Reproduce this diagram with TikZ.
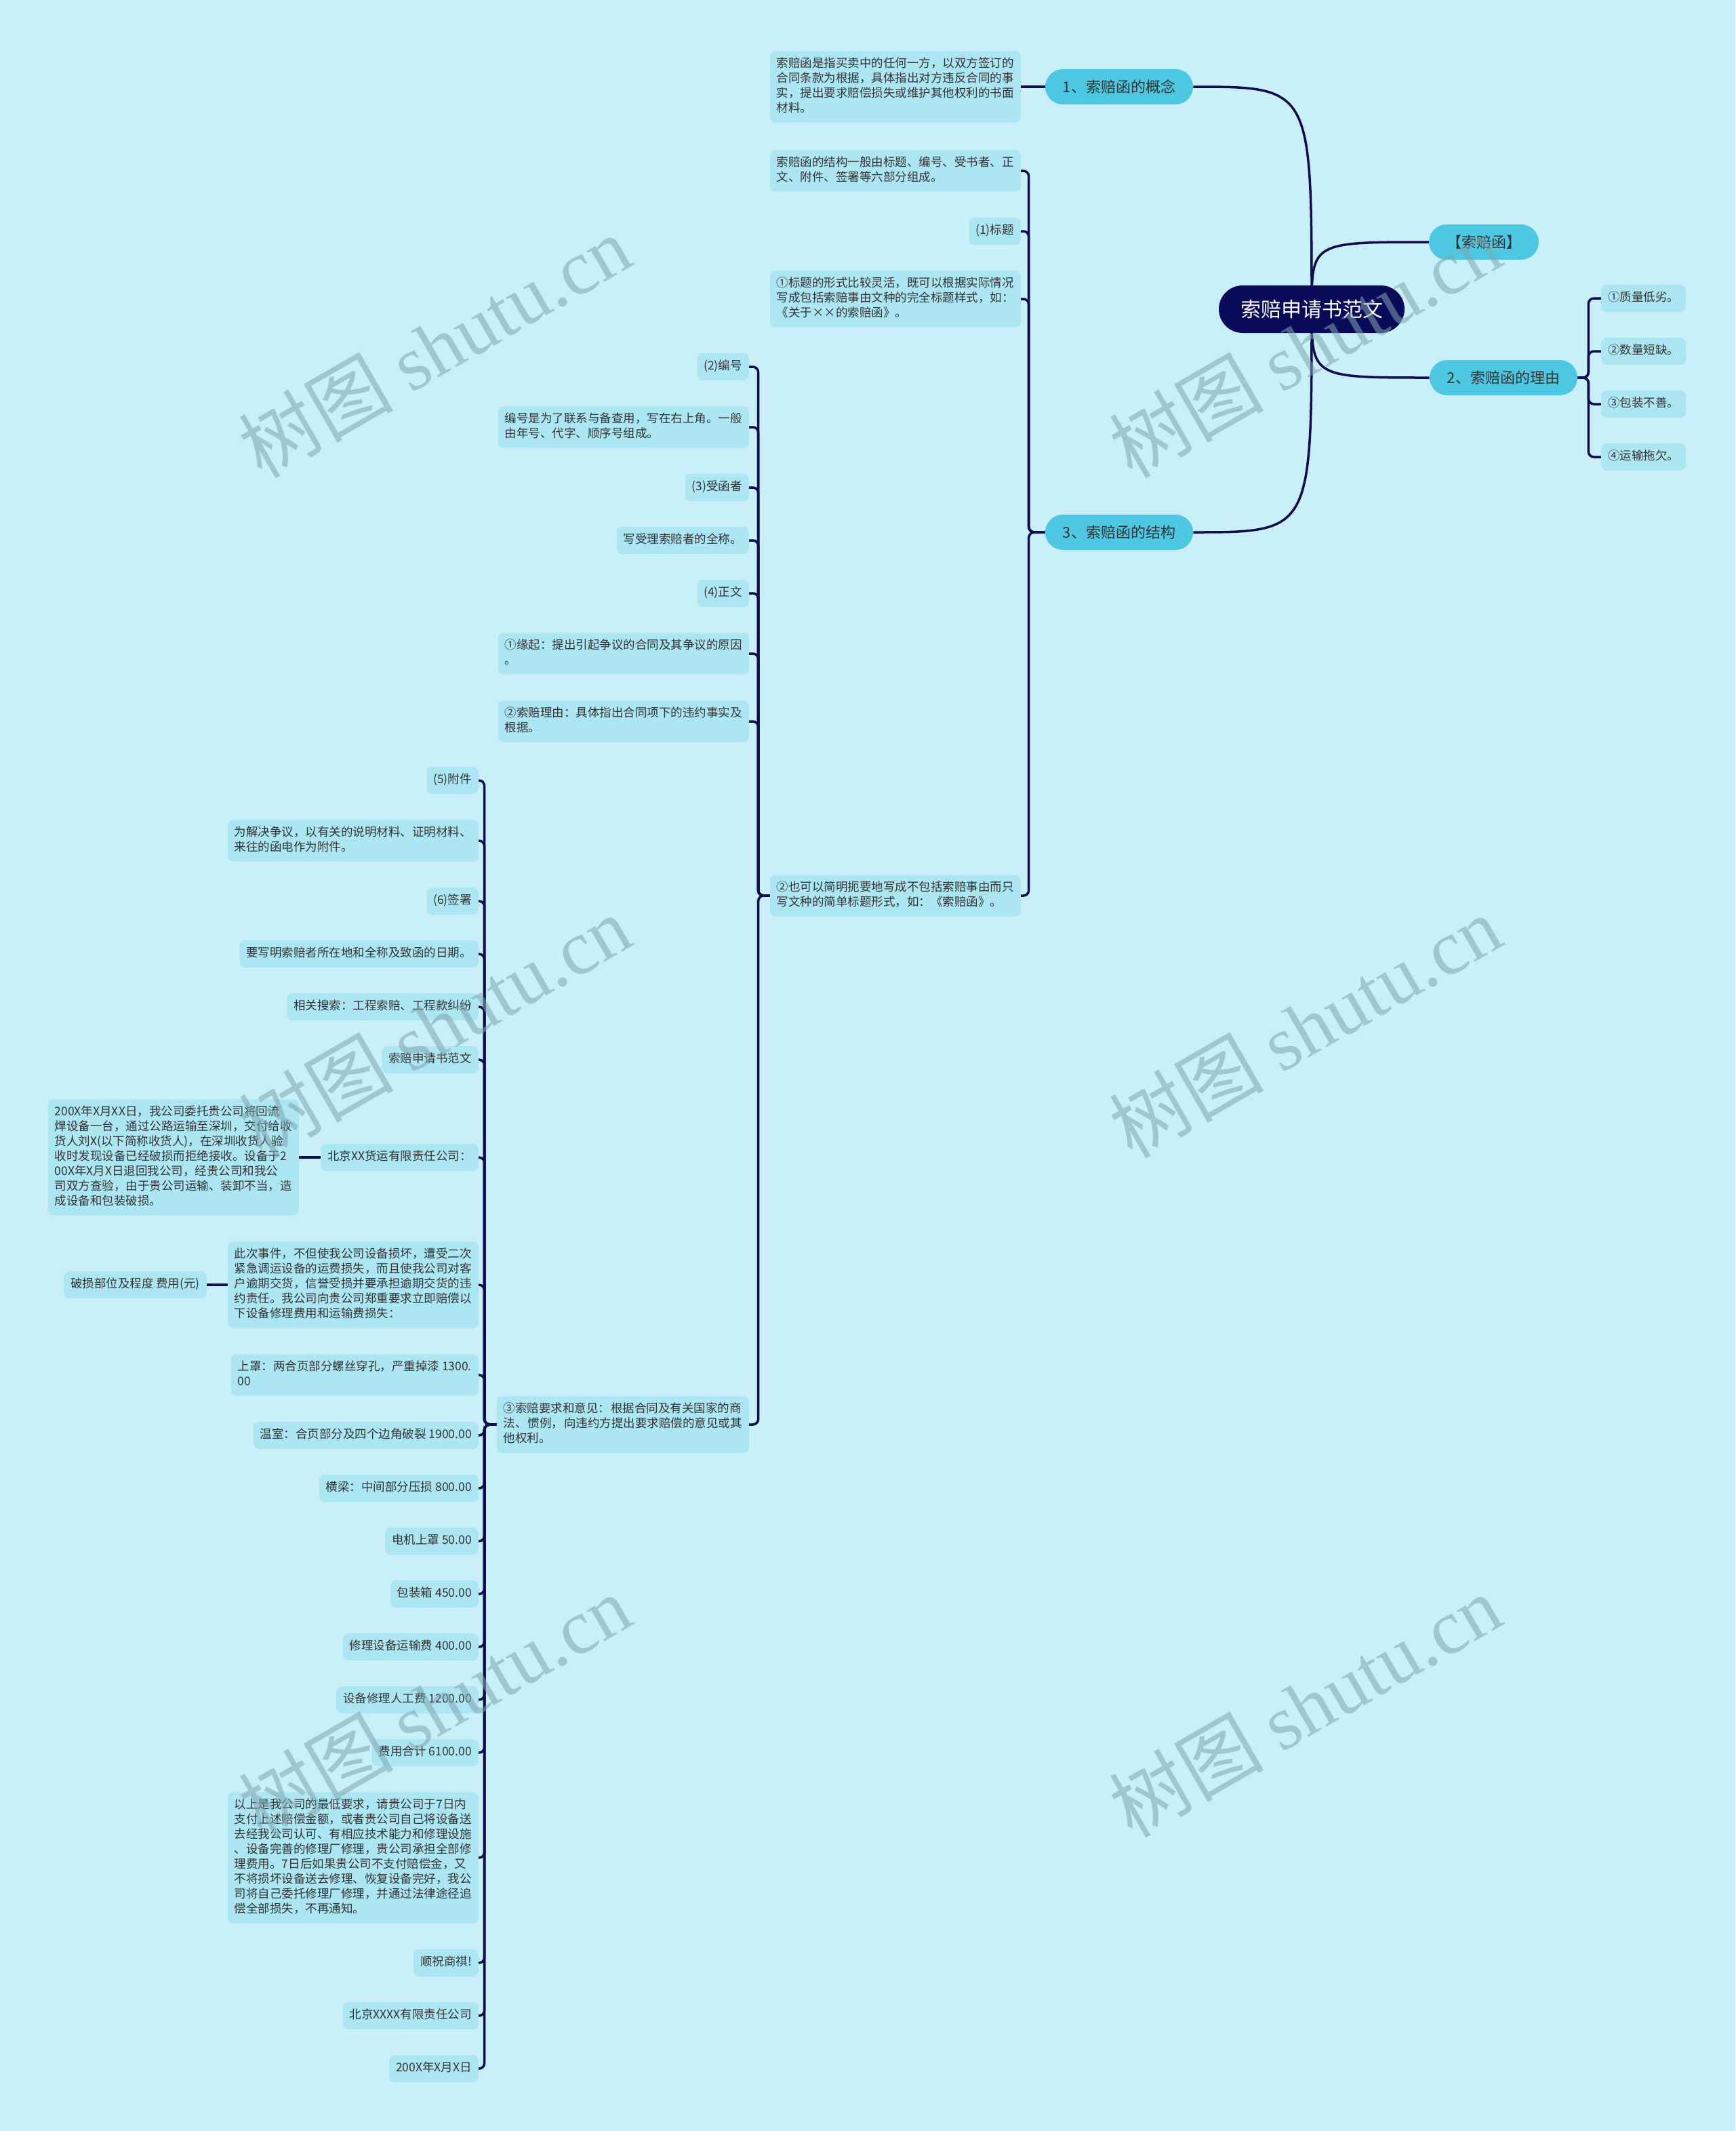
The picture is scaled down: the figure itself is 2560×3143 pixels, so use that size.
\documentclass[tikz,border=0pt]{standalone}
\usepackage{fontspec}
\setmainfont{Noto Sans CJK SC}
\newfontfamily\wmfont{Liberation Serif}
\pgfdeclarelayer{bg}
\pgfdeclarelayer{edges}
\pgfdeclarelayer{fg}
\pgfsetlayers{bg,edges,main,fg}
\definecolor{bgc}{HTML}{C9F0F8}
\definecolor{leafc}{HTML}{ADE6F3}
\definecolor{branchc}{HTML}{4CC8E3}
\definecolor{rootc}{HTML}{0A0A5A}
\definecolor{linec}{HTML}{0E0E4E}
\definecolor{txtc}{HTML}{333333}
\definecolor{wmc}{HTML}{7FA6AF}
\begin{document}
\begin{tikzpicture}[x=1pt,y=-1pt,
  leaf/.style={fill=leafc, rounded corners=8, inner xsep=10, inner ysep=9, align=left, text=txtc,
    font=\fontsize{17.5}{22}\selectfont, execute at begin node=\strut, execute at end node=\strut},
  leafe/.style={leaf, anchor=east},
  leafw/.style={leaf, anchor=west},
  branch/.style={fill=branchc, rounded corners=26, inner xsep=26, minimum height=52, text=txtc,
    font=\fontsize{22}{26}\selectfont},
  rootn/.style={fill=rootc, rounded corners=35, inner xsep=32, minimum height=70, text=white,
    font=\fontsize{30}{34}\selectfont},
  edge/.style={draw=linec, line width=3.5, rounded corners=8},
  wm/.style={rotate=30, text=wmc, text opacity=0.55, font=\fontsize{114}{120}\selectfont}
]
\begin{pgfonlayer}{bg}
\fill[bgc] (0,0) rectangle (2560,3143);
\end{pgfonlayer}
\path[use as bounding box] (0,0) rectangle (2560,3143);

% root and branches
\node[rootn] (root) at (1935,456) {索赔申请书范文};
\node[branch] (n1) at (1651,128) {1、索赔函的概念};
\node[branch] (nb) at (2189,357) {【索赔函】};
\node[branch] (n2) at (2218,557) {2、索赔函的理由};
\node[branch] (n3) at (1651,785) {3、索赔函的结构};

% branch 1
\node[leafe] (c1) at (1506,128) {索赔函是指买卖中的任何一方，以双方签订的\\合同条款为根据，具体指出对方违反合同的事\\实，提出要求赔偿损失或维护其他权利的书面\\材料。};

% branch 2
\node[leafw] (r1) at (2362,440) {①质量低劣。};
\node[leafw] (r2) at (2362,518) {②数量短缺。};
\node[leafw] (r3) at (2362,596) {③包装不善。};
\node[leafw] (r4) at (2362,674) {④运输拖欠。};

% branch 3
\node[leafe] (s1) at (1506,252) {索赔函的结构一般由标题、编号、受书者、正\\文、附件、签署等六部分组成。};
\node[leafe] (s2) at (1506,341) {(1)标题};
\node[leafe] (s3) at (1506,441) {①标题的形式比较灵活，既可以根据实际情况\\写成包括索赔事由文种的完全标题样式，如：\\《关于××的索赔函》。};
\node[leafe] (s4) at (1506,1321) {②也可以简明扼要地写成不包括索赔事由而只\\写文种的简单标题形式，如：《索赔函》。};

% children of s4
\node[leafe] (t1) at (1105,541) {(2)编号};
\node[leafe] (t2) at (1105,630) {编号是为了联系与备查用，写在右上角。一般\\由年号、代字、顺序号组成。};
\node[leafe] (t3) at (1105,719) {(3)受函者};
\node[leafe] (t4) at (1105,797) {写受理索赔者的全称。};
\node[leafe] (t5) at (1105,875) {(4)正文};
\node[leafe] (t6) at (1105,964) {①缘起：提出引起争议的合同及其争议的原因\\。};
\node[leafe] (t7) at (1105,1064) {②索赔理由：具体指出合同项下的违约事实及\\根据。};
\node[leafe] (t8) at (1105,2101) {③索赔要求和意见：\hspace{1pt}根据合同及有关国家的商\\法、\hspace{1pt}惯例，\hspace{1pt}向违约方提出要求赔偿的意见或其\\他权利。};

% children of t8
\node[leafe] (u1) at (706,1151) {(5)附件};
\node[leafe] (u2) at (706,1240) {为解决争议，以有关的说明材料、证明材料、\\来往的函电作为附件。};
\node[leafe] (u3) at (706,1329) {(6)签署};
\node[leafe] (u4) at (706,1407) {要写明索赔者所在地和全称及致函的日期。};
\node[leafe] (u5) at (706,1485) {相关搜索：工程索赔、工程款纠纷};
\node[leafe] (u6) at (706,1563) {索赔申请书范文};
\node[leafe] (u7) at (706,1707) {北京XX货运有限责任公司：};
\node[leafe] (u8) at (706,1895) {此次事件，不但使我公司设备损坏，遭受二次\\紧急调运设备的运费损失，而且使我公司对客\\户逾期交货，信誉受损并要承担逾期交货的违\\约责任。我公司向贵公司郑重要求立即赔偿以\\下设备修理费用和运输费损失：};
\node[leafe] (u9) at (706,2028) {上罩：两合页部分螺丝穿孔，严重掉漆 1300.\\00};
\node[leafe] (u10) at (706,2117) {温室：合页部分及四个边角破裂 1900.00};
\node[leafe] (u11) at (706,2195) {横梁：中间部分压损 800.00};
\node[leafe] (u12) at (706,2273) {电机上罩 50.00};
\node[leafe] (u13) at (706,2351) {包装箱 450.00};
\node[leafe] (u14) at (706,2429) {修理设备运输费 400.00};
\node[leafe] (u15) at (706,2507) {设备修理人工费 1200.00};
\node[leafe] (u16) at (706,2585) {费用合计 6100.00};
\node[leafe] (u17) at (706,2740) {以上是我公司的最低要求，请贵公司于7日内\\支付上述赔偿金额，或者贵公司自己将设备送\\去经我公司认可、有相应技术能力和修理设施\\、设备完善的修理厂修理，贵公司承担全部修\\理费用。7日后如果贵公司不支付赔偿金，又\\不将损坏设备送去修理、恢复设备完好，我公\\司将自己委托修理厂修理，并通过法律途径追\\偿全部损失，不再通知。};
\node[leafe] (u18) at (706,2895) {顺祝商祺!};
\node[leafe] (u19) at (706,2973) {北京XXXX有限责任公司};
\node[leafe] (u20) at (706,3051) {200X年X月X日};

\node[leafe] (v1) at (441,1707) {200X年X月XX日，我公司委托贵公司将回流\\焊设备一台，通过公路运输至深圳，交付给收\\货人刘X(以下简称收货人)，在深圳收货人验\\收时发现设备已经破损而拒绝接收。设备于2\\00X年X月X日退回我公司，经贵公司和我公\\司双方查验，由于贵公司运输、装卸不当，造\\成设备和包装破损。};
\node[leafe] (v2) at (305,1895) {破损部位及程度 费用(元)};

\begin{pgfonlayer}{edges}
\draw[edge] (root.center) .. controls (1935,128) .. (n1.east);
\draw[edge] (root.center) .. controls (1935,785) .. (n3.east);
\draw[edge] (root.center) .. controls (1935,357) .. (nb.west);
\draw[edge] (root.center) .. controls (1935,557) .. (n2.west);
\draw[edge] (n1.west) -- (c1.east);
\foreach \c in {r1,r2,r3,r4} \draw[edge] (n2.east) -- ++(16,0) |- (\c.west);
\foreach \c in {s1,s2,s3,s4} \draw[edge] (n3.west) -- ++(-24,0) |- (\c.east);
\foreach \c in {t1,t2,t3,t4,t5,t6,t7,t8} \draw[edge] (s4.west) -- ++(-17,0) |- (\c.east);
\foreach \c in {u1,u2,u3,u4,u5,u6,u7,u8,u9,u10,u11,u12,u13,u14,u15,u16,u17,u18,u19,u20}
  \draw[edge] (t8.west) -- ++(-18,0) |- (\c.east);
\draw[edge] (u7.west) -- (v1.east);
\draw[edge] (u8.west) -- (v2.east);
\end{pgfonlayer}

\begin{pgfonlayer}{fg}
\foreach \p/\q in {641/511, 1925/511, 641/1514, 1925/1514, 641/2516, 1925/2516}
  \node[wm] (wm\p\q) at (\p,\q) {树图 {\wmfont shutu.cn}};
\end{pgfonlayer}
\end{tikzpicture}
\end{document}
